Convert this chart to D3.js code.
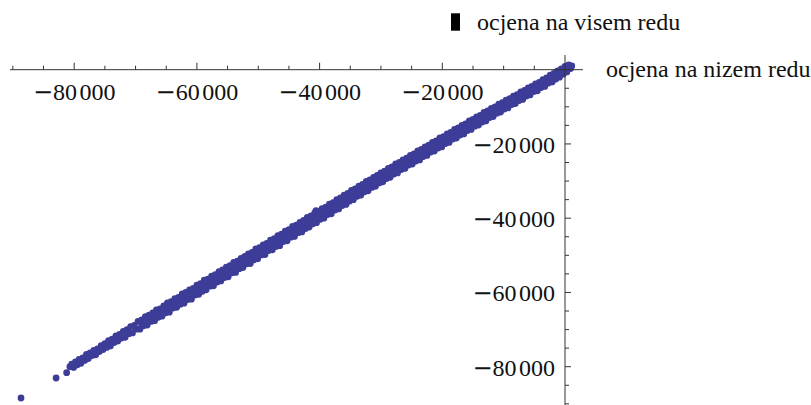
<!DOCTYPE html>
<html>
<head>
<meta charset="utf-8">
<script src="https://cdn.jsdelivr.net/npm/d3@7"></script>
<style>
  html, body { margin: 0; padding: 0; background: #fff; }
  svg { display: block; }
  text { font-family: "Liberation Serif", "Times New Roman", serif; fill: #111; }
  .minus { font-family: "DejaVu Sans", sans-serif; }
</style>
</head>
<body>
<svg id="chart" width="811" height="405"></svg>
<script>
'use strict';

// Axis labels
var xLabel = 'ocjena na nizem redu';
var yLabel = 'ocjena na visem redu';

// Major tick values (minor ticks every 5000)
var xMajorTicks = [-80000, -60000, -40000, -20000];
var yMajorTicks = [-20000, -40000, -60000, -80000];

// Lone points at the lower end of the cloud and the one outlier
var sparsePoints = [
    [-88670, -88430], [-82950, -83050], [-81230, -81600],
    [-80700, -80000], [-80050, -79500], [-40590, -37980]
];

// Estimate pairs [lower order, higher order]: upper and lower edge of the band
var bandPoints = [
    [-80400, -79300], [-80100, -80200], [-79800, -78700], [-79500, -79500],
    [-79200, -78000], [-78900, -79100], [-78600, -77600], [-78300, -78300],
    [-78000, -76700], [-77700, -77800], [-77400, -76300], [-77100, -77000],
    [-76800, -75600], [-76500, -76800], [-76200, -75200], [-75900, -75900],
    [-75600, -74300], [-75300, -75400], [-75000, -73800], [-74700, -74800],
    [-74400, -73000], [-74100, -74400], [-73800, -72600], [-73500, -73500],
    [-73200, -71700], [-72900, -73100], [-72600, -71300], [-72300, -72300],
    [-72000, -70500], [-71700, -72100], [-71400, -70000], [-71100, -71100],
    [-70800, -69200], [-70500, -70900], [-70200, -68900], [-69900, -69900],
    [-69600, -67800], [-69300, -69900], [-69000, -67400], [-68700, -69000],
    [-68400, -66500], [-68100, -68800], [-67800, -66100], [-67500, -67800],
    [-67200, -65500], [-66900, -67600], [-66600, -64700], [-66300, -66700],
    [-66000, -64400], [-65700, -66400], [-65400, -63600], [-65100, -65500],
    [-64800, -62800], [-64500, -65300], [-64200, -62500], [-63900, -64200],
    [-63600, -61700], [-63300, -64000], [-63000, -61300], [-62700, -63200],
    [-62400, -60400], [-62100, -62900], [-61800, -60000], [-61500, -61900],
    [-61200, -59300], [-60900, -61800], [-60600, -58900], [-60300, -60700],
    [-60000, -58000], [-59700, -60500], [-59400, -57600], [-59100, -59700],
    [-58800, -56700], [-58500, -59300], [-58200, -56400], [-57900, -58300],
    [-57600, -55600], [-57300, -58200], [-57000, -55200], [-56700, -57200],
    [-56400, -54400], [-56100, -56900], [-55800, -53900], [-55500, -56000],
    [-55200, -53200], [-54900, -55800], [-54600, -52800], [-54300, -54700],
    [-54000, -51900], [-53700, -54600], [-53400, -51600], [-53100, -53600],
    [-52800, -50800], [-52500, -53300], [-52200, -50300], [-51900, -52300],
    [-51600, -49600], [-51300, -52200], [-51000, -49200], [-50700, -51200],
    [-50400, -48300], [-50100, -50900], [-49800, -47900], [-49500, -49900],
    [-49200, -47200], [-48900, -49800], [-48600, -46800], [-48300, -48700],
    [-48000, -45900], [-47700, -48500], [-47400, -45500], [-47100, -47600],
    [-46800, -44700], [-46500, -47400], [-46200, -44300], [-45900, -46300],
    [-45600, -43500], [-45300, -46100], [-45000, -43100], [-44700, -45100],
    [-44400, -42200], [-44100, -44900], [-43800, -41900], [-43500, -43900],
    [-43200, -41100], [-42900, -43700], [-42600, -40600], [-42300, -42800],
    [-42000, -39800], [-41700, -42400], [-41400, -39400], [-41100, -41500],
    [-40800, -38600], [-40500, -41200], [-40200, -38200], [-39900, -40300],
    [-39600, -37400], [-39300, -40000], [-39000, -37000], [-38700, -39000],
    [-38400, -36200], [-38100, -38800], [-37800, -35800], [-37500, -37800],
    [-37200, -35000], [-36900, -37500], [-36600, -34500], [-36300, -36600],
    [-36000, -33800], [-35700, -36300], [-35400, -33300], [-35100, -35400],
    [-34800, -32500], [-34500, -35000], [-34200, -32100], [-33900, -34100],
    [-33600, -31400], [-33300, -33800], [-33000, -30900], [-32700, -32900],
    [-32400, -30100], [-32100, -32600], [-31800, -29700], [-31500, -31700],
    [-31200, -29000], [-30900, -31400], [-30600, -28500], [-30300, -30500],
    [-30000, -27800], [-29700, -30200], [-29400, -27300], [-29100, -29300],
    [-28800, -26600], [-28500, -29000], [-28200, -26200], [-27900, -28100],
    [-27600, -25400], [-27300, -27800], [-27000, -25000], [-26700, -26900],
    [-26400, -24300], [-26100, -26600], [-25800, -23800], [-25500, -25700],
    [-25200, -23100], [-24900, -25400], [-24600, -22700], [-24300, -24600],
    [-24000, -21900], [-23700, -24300], [-23400, -21500], [-23100, -23400],
    [-22800, -20800], [-22500, -23100], [-22200, -20300], [-21900, -22200],
    [-21600, -19600], [-21300, -21900], [-21000, -19200], [-20700, -21100],
    [-20400, -18400], [-20100, -20800], [-19800, -18000], [-19500, -19900],
    [-19200, -17300], [-18900, -19600], [-18600, -16900], [-18300, -18700],
    [-18000, -16100], [-17700, -18400], [-17400, -15700], [-17100, -17600],
    [-16800, -15000], [-16500, -17300], [-16200, -14600], [-15900, -16400],
    [-15600, -13800], [-15300, -16100], [-15000, -13400], [-14700, -15200],
    [-14400, -12700], [-14100, -14900], [-13800, -12300], [-13500, -14100],
    [-13200, -11500], [-12900, -13800], [-12600, -11100], [-12300, -12900],
    [-12000, -10400], [-11700, -12600], [-11400, -10000], [-11100, -11700],
    [-10800, -9300], [-10500, -11400], [-10200, -8900], [-9900, -10600],
    [-9600, -8200], [-9300, -10300], [-9000, -7800], [-8700, -9400],
    [-8400, -7100], [-8100, -9100], [-7800, -6700], [-7500, -8300],
    [-7200, -6000], [-6900, -8000], [-6600, -5600], [-6300, -7100],
    [-6000, -4900], [-5700, -6800], [-5400, -4500], [-5100, -5900],
    [-4800, -3800], [-4500, -5700], [-4200, -3400], [-3900, -4800],
    [-3600, -2700], [-3300, -4500], [-3000, -2200], [-2700, -3600],
    [-2400, -1500], [-2100, -3300], [-1800, -1000], [-1500, -2500],
    [-1200, -300], [-900, -2000], [-600, 200], [-300, -1200],
    [0, 900], [300, -600], [600, 1300], [900, 300], [1100, 1000]
];

// Estimate pairs along the middle of the band
var corePoints = [
    [-69000, -68600], [-67800, -67300], [-66600, -66300], [-65400, -64900],
    [-64200, -63900], [-63000, -62500], [-61800, -61500], [-60600, -60100],
    [-59400, -59100], [-58200, -57700], [-57000, -56700], [-55800, -55300],
    [-54600, -54300], [-53400, -52900], [-52200, -51900], [-51000, -50500],
    [-49800, -49500], [-48600, -48100], [-47400, -47100], [-46200, -45700],
    [-45000, -44700], [-43800, -43300], [-42600, -42300], [-41400, -40900],
    [-40200, -39900], [-39000, -38500], [-37800, -37400], [-36600, -36100],
    [-35400, -35000], [-34200, -33700], [-33000, -32600], [-31800, -31300],
    [-30600, -30200], [-29400, -28900], [-28200, -27800], [-27000, -26500],
    [-25800, -25400], [-24600, -24200], [-23400, -23000], [-22200, -21800],
    [-21000, -20700], [-19800, -19400], [-18600, -18300], [-17400, -17100],
    [-16200, -15900], [-15000, -14800], [-13800, -13500], [-12600, -12400],
    [-11400, -11200], [-10200, -10100], [-9000, -8800], [-7800, -7700],
    [-6600, -6500], [-5400, -5300], [-4200, -4100], [-3000, -3000],
    [-1800, -1800], [-600, -500],
    [-68400, -67900], [-67200, -66700], [-66000, -65500], [-64800, -64300],
    [-63600, -63100], [-62400, -61900], [-61200, -60700], [-60000, -59400],
    [-58800, -58300], [-57600, -57000], [-56400, -55900], [-55200, -54600],
    [-54000, -53400], [-52800, -52300], [-51600, -51000], [-50400, -49800],
    [-49200, -48600], [-48000, -47400], [-46800, -46200], [-45600, -45000],
    [-44400, -43800], [-43200, -42600], [-42000, -41300], [-40800, -40200],
    [-39600, -38900], [-38400, -37700], [-37200, -36500], [-36000, -35300],
    [-34800, -34100], [-33600, -32900], [-32400, -31700], [-31200, -30500],
    [-30000, -29300], [-28800, -28100], [-27600, -26900], [-26400, -25800],
    [-25200, -24600], [-24000, -23400], [-22800, -22200], [-21600, -21000],
    [-20400, -19900], [-19200, -18700], [-18000, -17500], [-16800, -16400],
    [-15600, -15200], [-14400, -14000], [-13200, -12900], [-12000, -11700],
    [-10800, -10500], [-9600, -9400], [-8400, -8200], [-7200, -7100],
    [-6000, -5900], [-4800, -4800], [-3600, -3600], [-2400, -2400],
    [-1200, -1200], [0, 0]
];

var dotColour = '#3d3d99';
var axisColour = '#333';
var fontSize = 24;

var svg = d3.select('#chart');

// Scales: axes cross at the origin, top right of the frame.
var x = d3.scaleLinear().domain([-80000, 0]).range([74.2, 565]);
var y = d3.scaleLinear().domain([-80000, 0]).range([366.7, 69.7]);
var xExtent = [x.invert(10), x.invert(583)];
var yExtent = [y.invert(405), y.invert(55)];

// Thousands grouped with a space, true minus sign.
var locale = d3.formatLocale({
    decimal: '.', thousands: ' ', grouping: [3], currency: ['', ''], minus: '\u2212'
});
var tickFormat = locale.format(',d');

// Minus goes in its own tspan so the digits keep the serif face.
function writeTickLabel(sel) {
    sel.each(function(d) {
        var label = tickFormat(d);
        var t = d3.select(this);
        if (label.charAt(0) === '\u2212') {
            t.append('tspan').classed('minus', true).text('\u2212');
            label = label.slice(1);
        }
        t.append('tspan').text(label);
    });
}

var minorX = d3.range(-90000, 1, 5000).filter(function(v) {return xMajorTicks.indexOf(v) < 0 && v !== 0;});
var minorY = d3.range(-90000, 1, 5000).filter(function(v) {return yMajorTicks.indexOf(v) < 0 && v !== 0;});

// Points first, axes drawn on top.
var allPoints = sparsePoints.concat(bandPoints, corePoints);
svg.append('g')
    .selectAll('circle')
    .data(allPoints)
    .enter()
    .append('circle')
        .attr('cx', function(d) {return x(d[0]);})
        .attr('cy', function(d) {return y(d[1]);})
        .attr('r', 3.4)
        .style('fill', dotColour);

// x axis line and ticks (ticks point up, labels below)
var xAxisG = svg.append('g').attr('transform', 'translate(0,' + y(0) + ')');
xAxisG.append('line')
    .attr('x1', x(xExtent[0])).attr('x2', x(xExtent[1]))
    .style('stroke', axisColour);
xAxisG.selectAll('line.major')
    .data(xMajorTicks).enter().append('line')
        .classed('major', true)
        .attr('x1', function(d) {return x(d);}).attr('x2', function(d) {return x(d);})
        .attr('y1', 0).attr('y2', -7)
        .style('stroke', axisColour);
xAxisG.selectAll('line.minor')
    .data(minorX).enter().append('line')
        .classed('minor', true)
        .attr('x1', function(d) {return x(d);}).attr('x2', function(d) {return x(d);})
        .attr('y1', 0).attr('y2', -4)
        .style('stroke', axisColour);
xAxisG.selectAll('text')
    .data(xMajorTicks).enter().append('text')
        .attr('x', function(d) {return x(d);})
        .attr('y', 30)
        .attr('text-anchor', 'middle')
        .style('font-size', fontSize + 'px')
        .style('word-spacing', '-3.5px')
        .call(writeTickLabel);

// y axis line and ticks (ticks point right, labels left)
var yAxisG = svg.append('g').attr('transform', 'translate(' + x(0) + ',0)');
yAxisG.append('line')
    .attr('y1', y(yExtent[0])).attr('y2', y(yExtent[1]))
    .style('stroke', axisColour);
yAxisG.selectAll('line.major')
    .data(yMajorTicks).enter().append('line')
        .classed('major', true)
        .attr('y1', function(d) {return y(d);}).attr('y2', function(d) {return y(d);})
        .attr('x1', 0).attr('x2', 6)
        .style('stroke', axisColour);
yAxisG.selectAll('line.minor')
    .data(minorY).enter().append('line')
        .classed('minor', true)
        .attr('y1', function(d) {return y(d);}).attr('y2', function(d) {return y(d);})
        .attr('x1', 0).attr('x2', 4)
        .style('stroke', axisColour);
yAxisG.selectAll('text')
    .data(yMajorTicks).enter().append('text')
        .attr('x', -10)
        .attr('y', function(d) {return y(d) + 9;})
        .attr('text-anchor', 'end')
        .style('font-size', fontSize + 'px')
        .style('word-spacing', '-3.5px')
        .call(writeTickLabel);

// Axis labels
svg.append('text')
    .attr('x', 606)
    .attr('y', 77)
    .style('font-size', fontSize + 'px')
    .text(xLabel);

svg.append('rect')
    .attr('x', 451).attr('y', 13.3)
    .attr('width', 9).attr('height', 17.4)
    .style('fill', '#000');
svg.append('text')
    .attr('x', 477)
    .attr('y', 30)
    .style('font-size', fontSize + 'px')
    .text(yLabel);
</script>
</body>
</html>
